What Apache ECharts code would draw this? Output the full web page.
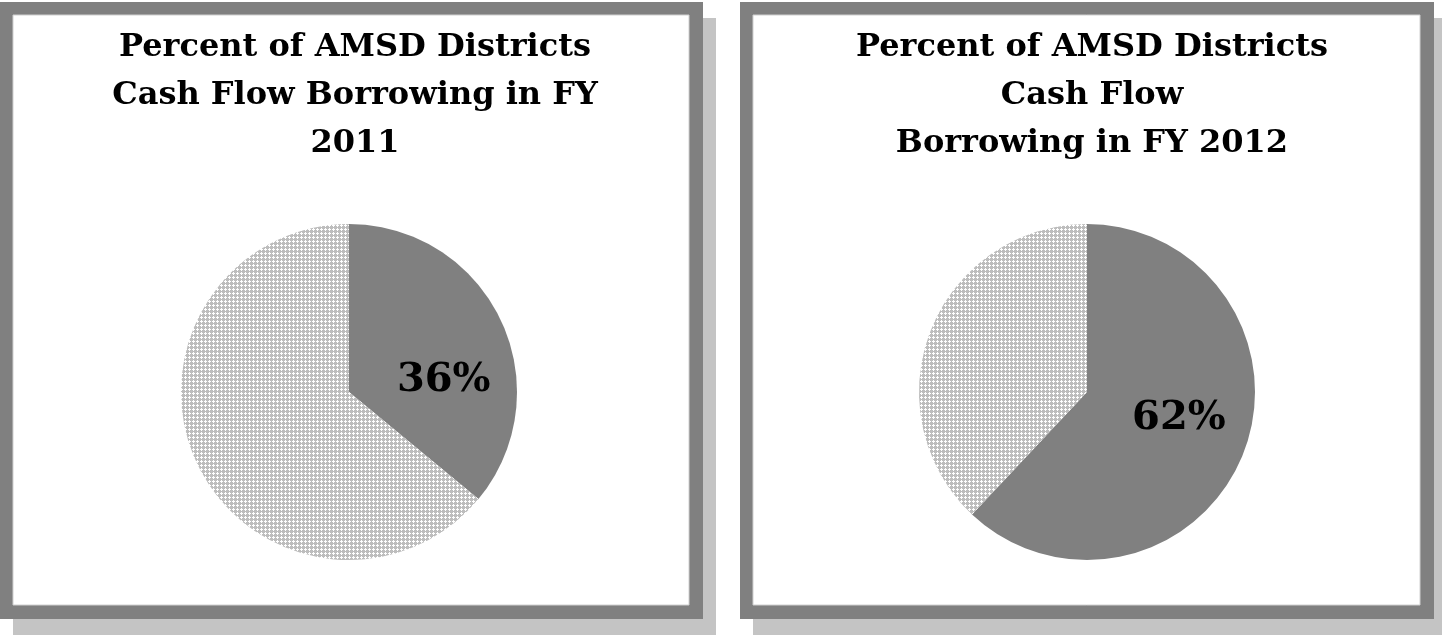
<!DOCTYPE html>
<html>
<head>
<meta charset="utf-8">
<style>
  html, body { margin: 0; padding: 0; background: #fff; }
  #main { width: 1442px; height: 635px; }
</style>
<script src="https://cdn.jsdelivr.net/npm/echarts@6/dist/echarts.min.js"></script>
</head>
<body>
<div id="main"></div>
<script>
// data
var sliceNames = ['Borrowing', 'Not borrowing'];
var values2011 = [36, 64];
var values2012 = [62, 38];
var title2011 = 'Percent of AMSD Districts\nCash Flow Borrowing in FY\n2011';
var title2012 = 'Percent of AMSD Districts\nCash Flow\nBorrowing in FY 2012';

// crosshatch fill like the office pattern
function makeHatch() {
    var c = document.createElement('canvas');
    c.width = 4;
    c.height = 4;
    var ctx = c.getContext('2d');
    ctx.fillStyle = '#bdbdbd';
    ctx.fillRect(0, 0, 4, 4);
    ctx.fillStyle = '#ffffff';
    ctx.fillRect(1, 0, 1, 3);
    ctx.fillRect(0, 1, 3, 1);
    return c;
}
var hatch = { image: makeHatch(), repeat: 'repeat' };

function toData(vals) {
    return vals.map(function (v, i) {
        return {
            name: sliceNames[i],
            value: v,
            itemStyle: { color: i === 0 ? '#808080' : hatch },
            label: { show: i === 0 }
        };
    });
}

function frame(x, y, w, h) {
    return [
        { type: 'rect', shape: { x: x + 13, y: y + 16, width: w, height: h }, style: { fill: '#c4c4c4' }, z: -3 },
        { type: 'rect', shape: { x: x, y: y, width: w, height: h }, style: { fill: '#808080' }, z: -2 },
        { type: 'rect', shape: { x: x + 13, y: y + 13, width: w - 27, height: h - 27 }, style: { fill: '#ffffff', stroke: '#d0d0d0', lineWidth: 1 }, z: -1 }
    ];
}

var titleStyle = {
    fontFamily: 'DejaVu Serif',
    fontWeight: 'bold',
    fontSize: 32,
    lineHeight: 48,
    color: '#000'
};

var labelStyle = {
    position: 'inside',
    formatter: '{c}%',
    fontFamily: 'DejaVu Serif',
    fontWeight: 'bold',
    fontSize: 40,
    color: '#000'
};

var chart = echarts.init(document.getElementById('main'));
chart.setOption({
    animation: false,
    graphic: frame(0, 2, 703, 617).concat(frame(740, 2, 694, 617)),
    title: [
        { text: title2011, left: 350, top: 19, textAlign: 'center', textStyle: titleStyle },
        { text: title2012, left: 1087, top: 19, textAlign: 'center', textStyle: titleStyle }
    ],
    series: [{
        type: 'pie',
        center: [349, 392],
        radius: 168,
        startAngle: 90,
        clockwise: true,
        silent: true,
        label: Object.assign({ offset: [16, 26] }, labelStyle),
        labelLine: { show: false },
        data: toData(values2011)
    }, {
        type: 'pie',
        center: [1087, 392],
        radius: 168,
        startAngle: 90,
        clockwise: true,
        silent: true,
        label: Object.assign({ offset: [11, -5] }, labelStyle),
        labelLine: { show: false },
        data: toData(values2012)
    }]
});
</script>
</body>
</html>
